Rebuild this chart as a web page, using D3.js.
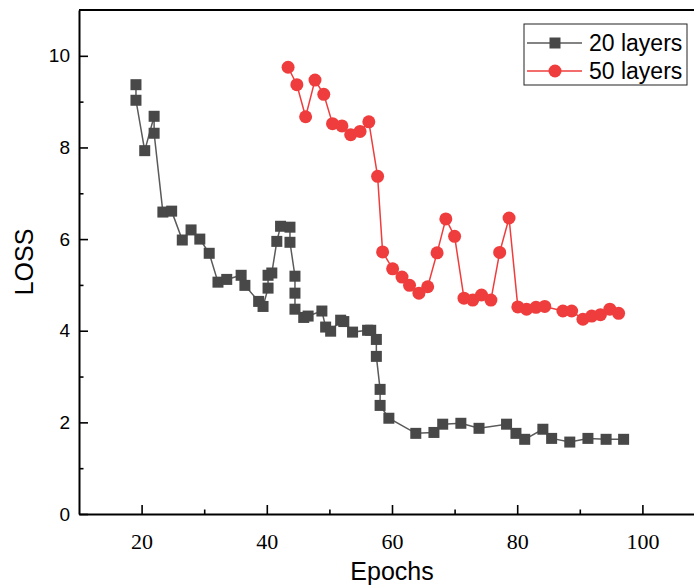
<!DOCTYPE html>
<html>
<head>
<meta charset="utf-8">
<script src="https://cdn.jsdelivr.net/npm/d3@7"></script>
<style>
  body { margin: 0; background: #fff; }
  svg { display: block; }
</style>
</head>
<body>
<svg width="694" height="588"></svg>
<script>
// data
const epochs20 = [19.1, 19.1, 20.5, 22.0, 22.0, 23.4, 24.8, 26.5, 27.9, 29.3, 30.8, 32.2, 33.6, 35.9, 36.5, 38.7, 39.4, 40.2, 40.2, 40.8, 41.6, 42.2, 43.7, 43.7, 44.5, 44.5, 44.5, 45.9, 46.6, 48.8, 49.4, 50.2, 51.8, 52.3, 53.7, 56.1, 56.6, 57.5, 57.5, 58.1, 58.1, 59.5, 63.8, 66.7, 68.1, 71.0, 73.9, 78.3, 79.8, 81.2, 84.1, 85.5, 88.4, 91.3, 94.2, 97.0];
const loss20 = [9.37, 9.03, 7.93, 8.68, 8.31, 6.59, 6.61, 5.98, 6.2, 6.0, 5.69, 5.06, 5.12, 5.21, 4.99, 4.64, 4.53, 4.93, 5.21, 5.26, 5.95, 6.28, 6.26, 5.93, 5.19, 4.82, 4.47, 4.29, 4.32, 4.43, 4.08, 3.99, 4.23, 4.2, 3.97, 4.01, 4.01, 3.81, 3.44, 2.72, 2.37, 2.09, 1.76, 1.78, 1.96, 1.98, 1.87, 1.96, 1.76, 1.63, 1.85, 1.65, 1.57, 1.65, 1.63, 1.63];

const epochs50 = [43.4, 44.8, 46.2, 47.7, 49.1, 50.5, 52.0, 53.4, 54.9, 56.3, 57.7, 58.5, 60.1, 61.6, 62.8, 64.3, 65.7, 67.2, 68.6, 70.0, 71.5, 72.9, 74.3, 75.8, 77.2, 78.7, 80.1, 81.5, 83.0, 84.4, 87.3, 88.7, 90.5, 91.9, 93.3, 94.8, 96.2];
const loss50 = [9.75, 9.37, 8.67, 9.47, 9.16, 8.52, 8.47, 8.28, 8.35, 8.56, 7.37, 5.72, 5.35, 5.17, 4.99, 4.82, 4.96, 5.70, 6.44, 6.06, 4.71, 4.67, 4.78, 4.67, 5.71, 6.46, 4.52, 4.47, 4.51, 4.53, 4.43, 4.43, 4.25, 4.32, 4.35, 4.47, 4.38];

const xMajor = [20, 40, 60, 80, 100];
const xMinor = [30, 50, 70, 90];
const yMajor = [0, 2, 4, 6, 8, 10];
const yMinor = [1, 3, 5, 7, 9];
const seriesNames = ["20 layers", "50 layers"];

const svg = d3.select("svg");
const margin = { top: 10, left: 79 };
const innerWidth = 626;   // the plot runs past the right edge of the window, as in the picture
const innerHeight = 504;

const x = d3.scaleLinear().domain([10, 110]).range([0, innerWidth]);
const y = d3.scaleLinear().domain([0, 11]).range([innerHeight, 0]);

const gray = "#484848";
const red = "#ef3d3d";

const g = svg.append("g")
  .attr("transform", `translate(${margin.left},${margin.top})`);

// top frame line
g.append("line")
  .attr("x1", 0).attr("x2", innerWidth)
  .attr("y1", 0).attr("y2", 0)
  .attr("stroke", "#000").attr("stroke-width", 2);

// x axis
const xAxis = g.append("g")
  .attr("transform", `translate(0,${innerHeight})`)
  .call(d3.axisBottom(x).tickValues(xMajor).tickSize(-9).tickSizeOuter(0).tickPadding(19));
xAxis.selectAll("text")
  .style("font-family", "'Liberation Serif', 'Times New Roman', serif")
  .style("font-size", "22px")
  .attr("fill", "#000");

const xMinorAxis = g.append("g")
  .attr("transform", `translate(0,${innerHeight})`)
  .call(d3.axisBottom(x).tickValues(xMinor).tickSize(-4.5).tickFormat(""));
xMinorAxis.select(".domain").remove();
xMinorAxis.selectAll("text").remove();

// y axis
const yAxis = g.append("g")
  .call(d3.axisLeft(y).tickValues(yMajor).tickSize(-9).tickSizeOuter(0).tickPadding(9));
yAxis.selectAll("text")
  .style("font-family", "'Liberation Sans', Arial, sans-serif")
  .style("font-size", "19px")
  .attr("fill", "#000");

const yMinorAxis = g.append("g")
  .call(d3.axisLeft(y).tickValues(yMinor).tickSize(-4.5).tickFormat(""));
yMinorAxis.select(".domain").remove();
yMinorAxis.selectAll("text").remove();

g.selectAll(".domain").attr("stroke", "#000").attr("stroke-width", 2);
g.selectAll(".tick line").attr("stroke", "#000").attr("stroke-width", 1.6);

// lines and markers
const pts20 = epochs20.map((e, i) => ({ e, v: loss20[i] }));
const pts50 = epochs50.map((e, i) => ({ e, v: loss50[i] }));

const line = d3.line().x(d => x(d.e)).y(d => y(d.v));

g.append("path")
  .datum(pts20)
  .attr("d", line)
  .attr("fill", "none")
  .attr("stroke", "#5a5a5a")
  .attr("stroke-width", 1.5);

g.selectAll("rect.m20")
  .data(pts20)
  .enter()
  .append("rect")
  .attr("class", "m20")
  .attr("x", d => x(d.e) - 5.5)
  .attr("y", d => y(d.v) - 5.5)
  .attr("width", 11)
  .attr("height", 11)
  .attr("fill", gray);

g.append("path")
  .datum(pts50)
  .attr("d", line)
  .attr("fill", "none")
  .attr("stroke", red)
  .attr("stroke-width", 1.5);

g.selectAll("circle.m50")
  .data(pts50)
  .enter()
  .append("circle")
  .attr("class", "m50")
  .attr("cx", d => x(d.e))
  .attr("cy", d => y(d.v))
  .attr("r", 6.5)
  .attr("fill", red);

// axis titles
svg.append("text")
  .attr("x", 392)
  .attr("y", 580)
  .attr("text-anchor", "middle")
  .style("font-family", "'Liberation Sans', Arial, sans-serif")
  .style("font-size", "25px")
  .text("Epochs");

svg.append("text")
  .attr("transform", "translate(33,262) rotate(-90)")
  .attr("text-anchor", "middle")
  .style("font-family", "'Liberation Sans', Arial, sans-serif")
  .style("font-size", "25px")
  .text("LOSS");

// legend
const legend = svg.append("g").attr("transform", "translate(524,24)");

legend.append("rect")
  .attr("width", 163)
  .attr("height", 61)
  .attr("fill", "#fff")
  .attr("stroke", "#222")
  .attr("stroke-width", 1);

seriesNames.forEach((name, i) => {
  const yOff = 19 + i * 28;
  const col = i === 0 ? "#5a5a5a" : red;
  legend.append("line")
    .attr("x1", 3).attr("x2", 58)
    .attr("y1", yOff).attr("y2", yOff)
    .attr("stroke", col).attr("stroke-width", 1.5);
  if (i === 0) {
    legend.append("rect")
      .attr("x", 31 - 5.5).attr("y", yOff - 5.5)
      .attr("width", 11).attr("height", 11)
      .attr("fill", gray);
  } else {
    legend.append("circle")
      .attr("cx", 31).attr("cy", yOff)
      .attr("r", 6.5)
      .attr("fill", red);
  }
  legend.append("text")
    .attr("x", 65)
    .attr("y", yOff)
    .attr("dy", "0.35em")
    .style("font-family", "'Liberation Sans', Arial, sans-serif")
    .style("font-size", "23px")
    .text(name);
});
</script>
</body>
</html>
